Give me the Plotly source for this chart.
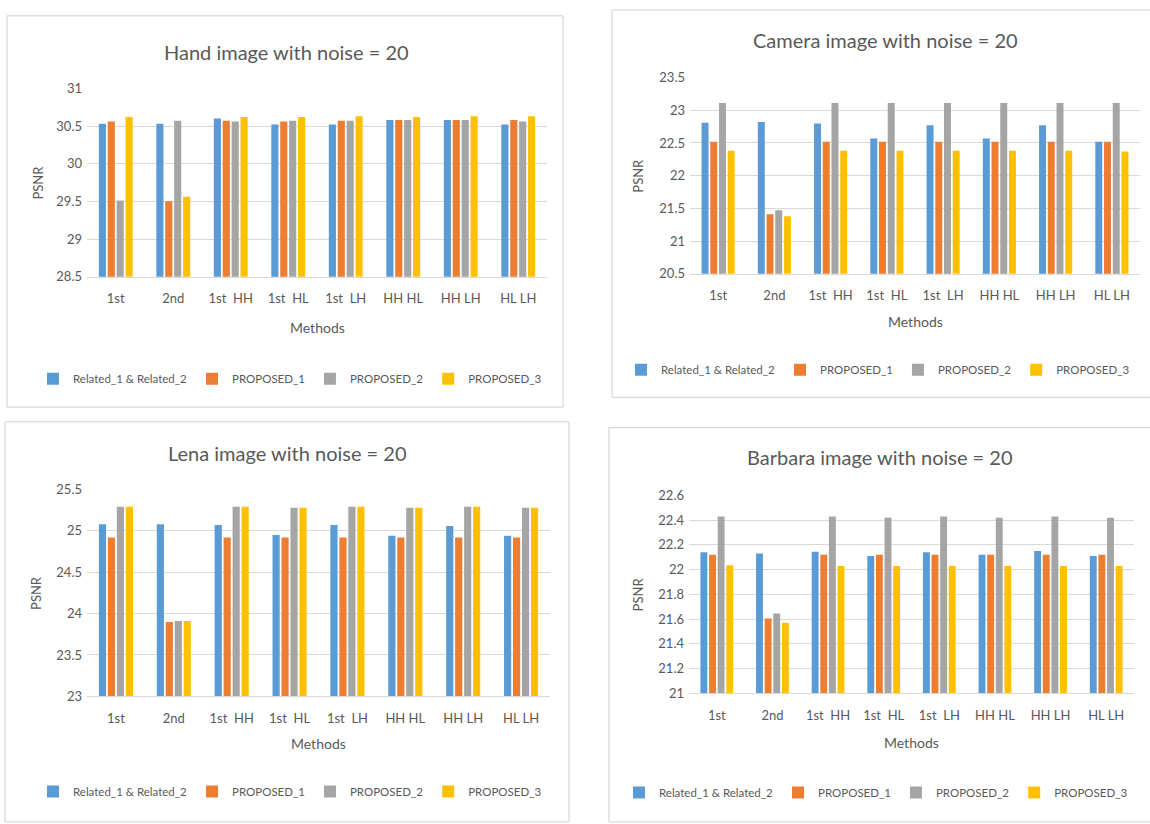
import plotly.graph_objects as go

# ---- data -------------------------------------------------------------
methods = ["1st", "2nd", "1st\u00a0\u00a0HH", "1st\u00a0\u00a0HL", "1st\u00a0\u00a0LH",
           "HH HL", "HH LH", "HL LH"]
series_names = ["Related_1 & Related_2", "PROPOSED_1", "PROPOSED_2", "PROPOSED_3"]

hand_related = [30.53, 30.53, 30.60, 30.52, 30.52, 30.58, 30.58, 30.52]
hand_p1 = [30.56, 29.50, 30.57, 30.56, 30.57, 30.58, 30.58, 30.58]
hand_p2 = [29.51, 30.57, 30.56, 30.57, 30.57, 30.58, 30.58, 30.56]
hand_p3 = [30.62, 29.56, 30.62, 30.62, 30.63, 30.62, 30.63, 30.63]

camera_related = [22.81, 22.82, 22.80, 22.57, 22.77, 22.57, 22.77, 22.52]
camera_p1 = [22.52, 21.41, 22.52, 22.52, 22.52, 22.52, 22.52, 22.52]
camera_p2 = [23.11, 21.47, 23.11, 23.11, 23.11, 23.11, 23.11, 23.11]
camera_p3 = [22.38, 21.38, 22.38, 22.38, 22.38, 22.38, 22.38, 22.37]

lena_related = [25.08, 25.08, 25.07, 24.95, 25.07, 24.94, 25.06, 24.94]
lena_p1 = [24.92, 23.90, 24.92, 24.92, 24.92, 24.92, 24.92, 24.92]
lena_p2 = [25.29, 23.91, 25.29, 25.28, 25.29, 25.28, 25.29, 25.28]
lena_p3 = [25.29, 23.91, 25.29, 25.28, 25.29, 25.28, 25.29, 25.28]

barbara_related = [22.14, 22.13, 22.145, 22.11, 22.14, 22.12, 22.15, 22.11]
barbara_p1 = [22.12, 21.605, 22.12, 22.12, 22.12, 22.12, 22.12, 22.12]
barbara_p2 = [22.43, 21.645, 22.43, 22.42, 22.43, 22.42, 22.43, 22.42]
barbara_p3 = [22.035, 21.57, 22.03, 22.03, 22.03, 22.03, 22.03, 22.03]

titles = ["Hand image with noise = 20", "Camera image with noise = 20",
          "Lena image with noise = 20", "Barbara image with noise = 20"]

# ---- styling ----------------------------------------------------------
W, H = 1150, 824
COLORS = ["#5B9BD5", "#ED7D31", "#A5A5A5", "#FFC000"]
TEXT = "#595959"
GRID = "#D9D9D9"
FONT = "Lato, Carlito, 'Liberation Sans', sans-serif"


def px_x(v):
    return v / W


def px_y(v):
    return 1 - v / H


# panel layout in pixels: plot box (left, right, top, bottom), y-range, dtick,
# title position, axis-title positions, legend centre, frame box
panels = [
    dict(data=[hand_related, hand_p1, hand_p2, hand_p3],
         box=(87, 547, 82, 274), rng=(28.5, 31), dtick=0.5,
         title_xy=(286, 45), psnr_x=38, methods_y=326, legend_xy=(290, 378),
         frame=(7, 563, 8, 407)),
    dict(data=[camera_related, camera_p1, camera_p2, camera_p3],
         box=(690, 1140, 71, 271), rng=(20.5, 23.5), dtick=0.5,
         title_xy=(885, 33), psnr_x=638, methods_y=320, legend_xy=(878, 369),
         frame=(612, 1160, 2, 397)),
    dict(data=[lena_related, lena_p1, lena_p2, lena_p3],
         box=(87, 550, 491, 702), rng=(23, 25.5), dtick=0.5,
         title_xy=(287, 454), psnr_x=36, methods_y=750, legend_xy=(290, 799),
         frame=(5, 569, 422, 830)),
    dict(data=[barbara_related, barbara_p1, barbara_p2, barbara_p3],
         box=(689, 1134, 497, 699), rng=(21, 22.6), dtick=0.2,
         title_xy=(880, 458), psnr_x=638, methods_y=749, legend_xy=(876, 800),
         frame=(609, 1160, 428, 830)),
]

fig = go.Figure()
layout = dict(
    width=W, height=H,
    margin=dict(l=0, r=0, t=0, b=0),
    paper_bgcolor="white", plot_bgcolor="white",
    font=dict(family=FONT, color=TEXT, size=12),
    barmode="group", bargap=0.38, bargroupgap=0.2,
    showlegend=True,
)
annotations = []
shapes = []

for i, p in enumerate(panels):
    n = i + 1
    xa = "x" if n == 1 else f"x{n}"
    ya = "y" if n == 1 else f"y{n}"
    lg = "legend" if n == 1 else f"legend{n}"
    for name, vals, col in zip(series_names, p["data"], COLORS):
        fig.add_trace(go.Bar(
            x=methods, y=vals, name=name, marker_color=col,
            marker_line_width=0, xaxis=xa, yaxis=ya, legend=lg,
        ))
    left, right, top, bottom = p["box"]
    xkey = "xaxis" if n == 1 else f"xaxis{n}"
    ykey = "yaxis" if n == 1 else f"yaxis{n}"
    layout[xkey] = dict(
        domain=[px_x(left), px_x(right)], anchor=ya,
        showline=True, linecolor=GRID, linewidth=1,
        showgrid=False, ticks="", ticklabelstandoff=10,
        tickfont=dict(size=13, color=TEXT), fixedrange=True,
    )
    layout[ykey] = dict(
        domain=[px_y(bottom), px_y(top)], anchor=xa,
        range=list(p["rng"]), dtick=p["dtick"], tick0=p["rng"][0],
        showgrid=True, gridcolor=GRID, gridwidth=1, zeroline=False,
        showline=False, ticks="", ticklabelstandoff=4,
        tickfont=dict(size=13, color=TEXT), fixedrange=True,
    )
    lx, ly = p["legend_xy"]
    layout[lg] = dict(
        orientation="h", x=px_x(lx), y=px_y(ly),
        xanchor="center", yanchor="middle",
        font=dict(size=11.5, color=TEXT), bgcolor="rgba(0,0,0,0)",
        itemwidth=30, traceorder="normal", itemclick=False,
    )
    tx, ty = p["title_xy"]
    annotations.append(dict(
        text=titles[i], x=px_x(tx), y=px_y(ty), xref="paper", yref="paper",
        xanchor="center", yanchor="middle", showarrow=False,
        font=dict(size=20, color=TEXT),
    ))
    annotations.append(dict(
        text="PSNR", x=px_x(p["psnr_x"]), y=px_y((top + bottom) / 2),
        xref="paper", yref="paper", xanchor="center", yanchor="middle",
        textangle=-90, showarrow=False, font=dict(size=13, color=TEXT),
    ))
    annotations.append(dict(
        text="Methods", x=px_x((left + right) / 2), y=px_y(p["methods_y"]),
        xref="paper", yref="paper", xanchor="center", yanchor="middle",
        showarrow=False, font=dict(size=14, color=TEXT),
    ))
    fl, fr, ft, fb = p["frame"]
    shapes.append(dict(
        type="rect", xref="paper", yref="paper",
        x0=px_x(fl), x1=px_x(fr), y0=px_y(fb), y1=px_y(ft),
        line=dict(color="#D0D0D0", width=1), fillcolor="rgba(0,0,0,0)",
        layer="below",
    ))

layout["annotations"] = annotations
layout["shapes"] = shapes
fig.update_layout(**layout)

fig.write_html("out.html")
